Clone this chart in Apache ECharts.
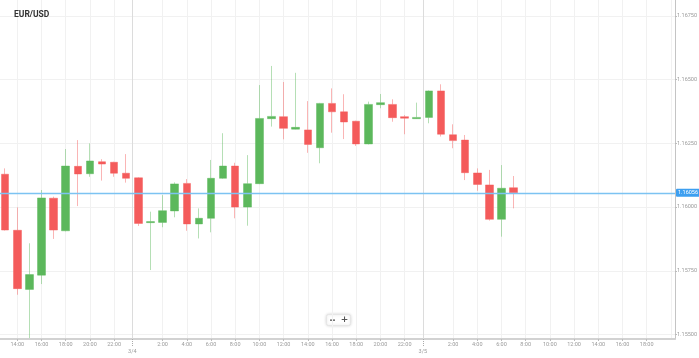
<!DOCTYPE html>
<html><head><meta charset="utf-8">
<script src="https://cdn.jsdelivr.net/npm/echarts@6/dist/echarts.min.js"></script>
<style>html,body{margin:0;padding:0;background:#fff}#c{width:699px;height:358px}</style>
</head><body><div id="c"></div>
<script>
const titleText = 'EUR/USD';
// hour of each candle, counted from 3/3 00:00
const hours = [13,14,15,16,17,18,19,20,21,22,23,24,25,26,27,28,29,30,31,32,33,34,35,36,37,38,39,40,41,42,43,44,45,46,47,48,49,50,51,52,53,54,55];
const open  = [1.16129,1.15909,1.15677,1.15733,1.16035,1.15907,1.16160,1.16131,1.16178,1.16176,1.16133,1.16115,1.15939,1.15940,1.15985,1.16093,1.15934,1.15956,1.16113,1.16161,1.16000,1.16092,1.16347,1.16355,1.16306,1.16303,1.16233,1.16407,1.16374,1.16337,1.16248,1.16402,1.16403,1.16355,1.16347,1.16352,1.16456,1.16284,1.16263,1.16134,1.16087,1.15952,1.16076];
const close = [1.15910,1.15680,1.15735,1.16036,1.15910,1.16161,1.16130,1.16181,1.16169,1.16133,1.16113,1.15936,1.15943,1.15986,1.16091,1.15934,1.15956,1.16113,1.16161,1.16000,1.16092,1.16348,1.16356,1.16309,1.16313,1.16246,1.16407,1.16374,1.16334,1.16248,1.16403,1.16410,1.16351,1.16349,1.16352,1.16456,1.16286,1.16261,1.16135,1.16089,1.15952,1.16074,1.16056];
const low   = [1.15908,1.15656,1.15486,1.15698,1.15875,1.15905,1.16004,1.16119,1.16104,1.16119,1.16096,1.15926,1.15753,1.15921,1.15960,1.15907,1.15877,1.15901,1.16111,1.15956,1.15927,1.16090,1.16316,1.16266,1.16305,1.16213,1.16172,1.16292,1.16267,1.16240,1.16246,1.16388,1.16335,1.16286,1.16346,1.16329,1.16277,1.16231,1.16106,1.16064,1.15947,1.15884,1.15995];
const high  = [1.16152,1.15999,1.15858,1.16067,1.16041,1.16228,1.16263,1.16250,1.16188,1.16178,1.16208,1.16117,1.15982,1.16047,1.16097,1.16110,1.15995,1.16185,1.16290,1.16174,1.16204,1.16479,1.16554,1.16491,1.16527,1.16416,1.16409,1.16466,1.16443,1.16339,1.16414,1.16444,1.16423,1.16361,1.16410,1.16458,1.16482,1.16325,1.16283,1.16152,1.16146,1.16165,1.16122];
const tickHours  = [14,16,18,20,22,26,28,30,32,34,36,38,40,42,44,46,50,52,54,56,58,60,62,64,66];
const tickLabels = ['14:00','16:00','18:00','20:00','22:00','2:00','4:00','6:00','8:00','10:00','12:00','14:00','16:00','18:00','20:00','22:00','2:00','4:00','6:00','8:00','10:00','12:00','14:00','16:00','18:00'];
const dayBreaks = [23.5, 47.5];
const dayLabels = ['3/4', '3/5'];
const yTickValues = [1.155, 1.1575, 1.16, 1.1625, 1.165, 1.1675];
const lastPrice = 1.16056;

// ---- layout (pixels) ----
const xMinH = 12, xStep = 2, pxPerHour = 12.104;
const plotLeft = 17.3 - (14 - xMinH) * pxPerHour; // x of 12:00 (just off-screen)
const plotRight = 675, chartW = 699, chartH = 358;
const xMaxH = xMinH + (plotRight - plotLeft) / pxPerHour;
const yTickTopPx = 16, yTickBotPx = 334.5, axisPx = 339;
const yMinT = yTickValues[0], yMaxT = yTickValues[yTickValues.length - 1], yStep = 0.0025;
const pxPerUnit = (yTickBotPx - yTickTopPx) / (yMaxT - yMinT);
const yMaxA = yMaxT + yTickTopPx / pxPerUnit;
const yMinA = yMinT - (axisPx - yTickBotPx) / pxPerUnit;

const data = hours.map((h, i) => [h, open[i], close[i], low[i], high[i]]);
const FONT = 'Roboto';
const labelColor = '#9a9a9a';
const gridColors = [];
for (let i = 0; i < 12; i++) gridColors.push(i === 6 ? 'rgba(0,0,0,0)' : '#f1f1f1');

const chart = echarts.init(document.getElementById('c'));
chart.setOption({
  animation: false,
  backgroundColor: '#fff',
  title: { text: titleText, left: 9, top: 5, textStyle: { fontFamily: FONT, fontSize: 8.5, fontWeight: 'bold', color: '#333' } },
  grid: [
    { left: plotLeft, right: chartW - plotRight, top: 0, bottom: chartH - axisPx, containLabel: false, outerBoundsMode: 'none' },
    { left: plotLeft, right: chartW - plotRight, top: yTickTopPx, bottom: chartH - yTickBotPx, containLabel: false, outerBoundsMode: 'none' }
  ],
  xAxis: [
    { type: 'value', gridIndex: 0, min: xMinH, max: xMaxH, interval: xStep, position: 'bottom',
      axisLine: { show: true, lineStyle: { color: '#d2d2d2', width: 2 } },
      axisTick: { show: false }, axisLabel: { show: false },
      splitLine: { show: true, lineStyle: { color: gridColors, width: 1 } } },
    { type: 'value', gridIndex: 0, min: xMinH, max: xMaxH, interval: xStep, position: 'bottom',
      axisLine: { show: false },
      axisTick: { show: true, customValues: tickHours, length: 2, lineStyle: { color: '#bbb' } },
      axisLabel: { show: true, customValues: tickHours, margin: 3, fontFamily: FONT, fontSize: 5.5, color: labelColor,
        formatter: v => { const i = tickHours.indexOf(v); return i >= 0 ? tickLabels[i] : ''; } },
      splitLine: { show: false } },
    { type: 'value', gridIndex: 1, min: xMinH, max: xMaxH, interval: xStep, position: 'bottom', offset: axisPx - yTickBotPx,
      axisLine: { show: false },
      axisTick: { show: true, customValues: dayBreaks, length: 8, lineStyle: { color: '#aaa', type: 'dotted' } },
      axisLabel: { show: true, customValues: dayBreaks, margin: 10, fontFamily: FONT, fontSize: 5.5, color: labelColor,
        formatter: v => { const i = dayBreaks.indexOf(v); return i >= 0 ? dayLabels[i] : ''; } },
      splitLine: { show: false } }
  ],
  yAxis: [
    { type: 'value', gridIndex: 0, min: yMinA, max: yMaxA, position: 'right',
      axisLine: { show: true, lineStyle: { color: '#c4c4c4', width: 1 } },
      axisTick: { show: false }, axisLabel: { show: false }, splitLine: { show: false } },
    { type: 'value', gridIndex: 1, min: yMinT, max: yMaxT, interval: yStep, position: 'right',
      axisLine: { show: false },
      axisTick: { show: true, length: 2, lineStyle: { color: '#bbb' } },
      axisLabel: { show: true, margin: 2, fontFamily: FONT, fontSize: 5.5, color: labelColor,
        formatter: v => v.toFixed(5) },
      splitLine: { show: true, lineStyle: { color: '#f1f1f1', width: 1 } } }
  ],
  series: [
    { type: 'line', xAxisIndex: 0, yAxisIndex: 0, data: [], silent: true,
      markLine: {
        silent: true, symbol: ['none', 'none'], animation: false, precision: 2,
        lineStyle: { color: '#dcdcdc', width: 1, type: 'solid' }, label: { show: false },
        data: dayBreaks.map(d => ({ xAxis: d }))
      }
    },
    { type: 'candlestick', xAxisIndex: 0, yAxisIndex: 0, data: data, encode: { x: 0, y: [1, 2, 3, 4] },
      barWidth: 8,
      itemStyle: { color: '#5cb85c', color0: '#f45b5b', borderColor: 'rgba(92,184,92,0.45)', borderColor0: 'rgba(244,91,91,0.45)', borderWidth: 1 },
      markLine: {
        silent: true, symbol: ['none', 'none'], animation: false, precision: 5,
        lineStyle: { color: '#7cc3f2', width: 1.3, type: 'solid', opacity: 1 },
        label: { show: true, position: 'end', distance: 1, formatter: () => lastPrice.toFixed(5),
          backgroundColor: '#3d9ff0', color: '#fff', fontFamily: FONT, fontSize: 5.5, padding: [1, 2, 1, 2], borderRadius: 1 },
        data: [ { yAxis: lastPrice } ]
      }
    }
  ],
  graphic: [
    { type: 'group', left: 326, top: 314, children: [
      { type: 'rect', shape: { x: 0, y: 0, width: 24, height: 11, r: 2 },
        style: { fill: '#fff', stroke: '#e6e6e6', lineWidth: 1, shadowBlur: 3, shadowColor: 'rgba(0,0,0,0.15)' } },
      { type: 'rect', shape: { x: 3.5, y: 5, width: 5, height: 1.3 }, style: { fill: '#555' } },
      { type: 'text', x: 18, y: 5.5, style: { text: '+', fill: '#555', font: 'bold 9px "DejaVu Sans"', align: 'center', verticalAlign: 'middle' } }
    ] }
  ]
});
</script></body></html>
